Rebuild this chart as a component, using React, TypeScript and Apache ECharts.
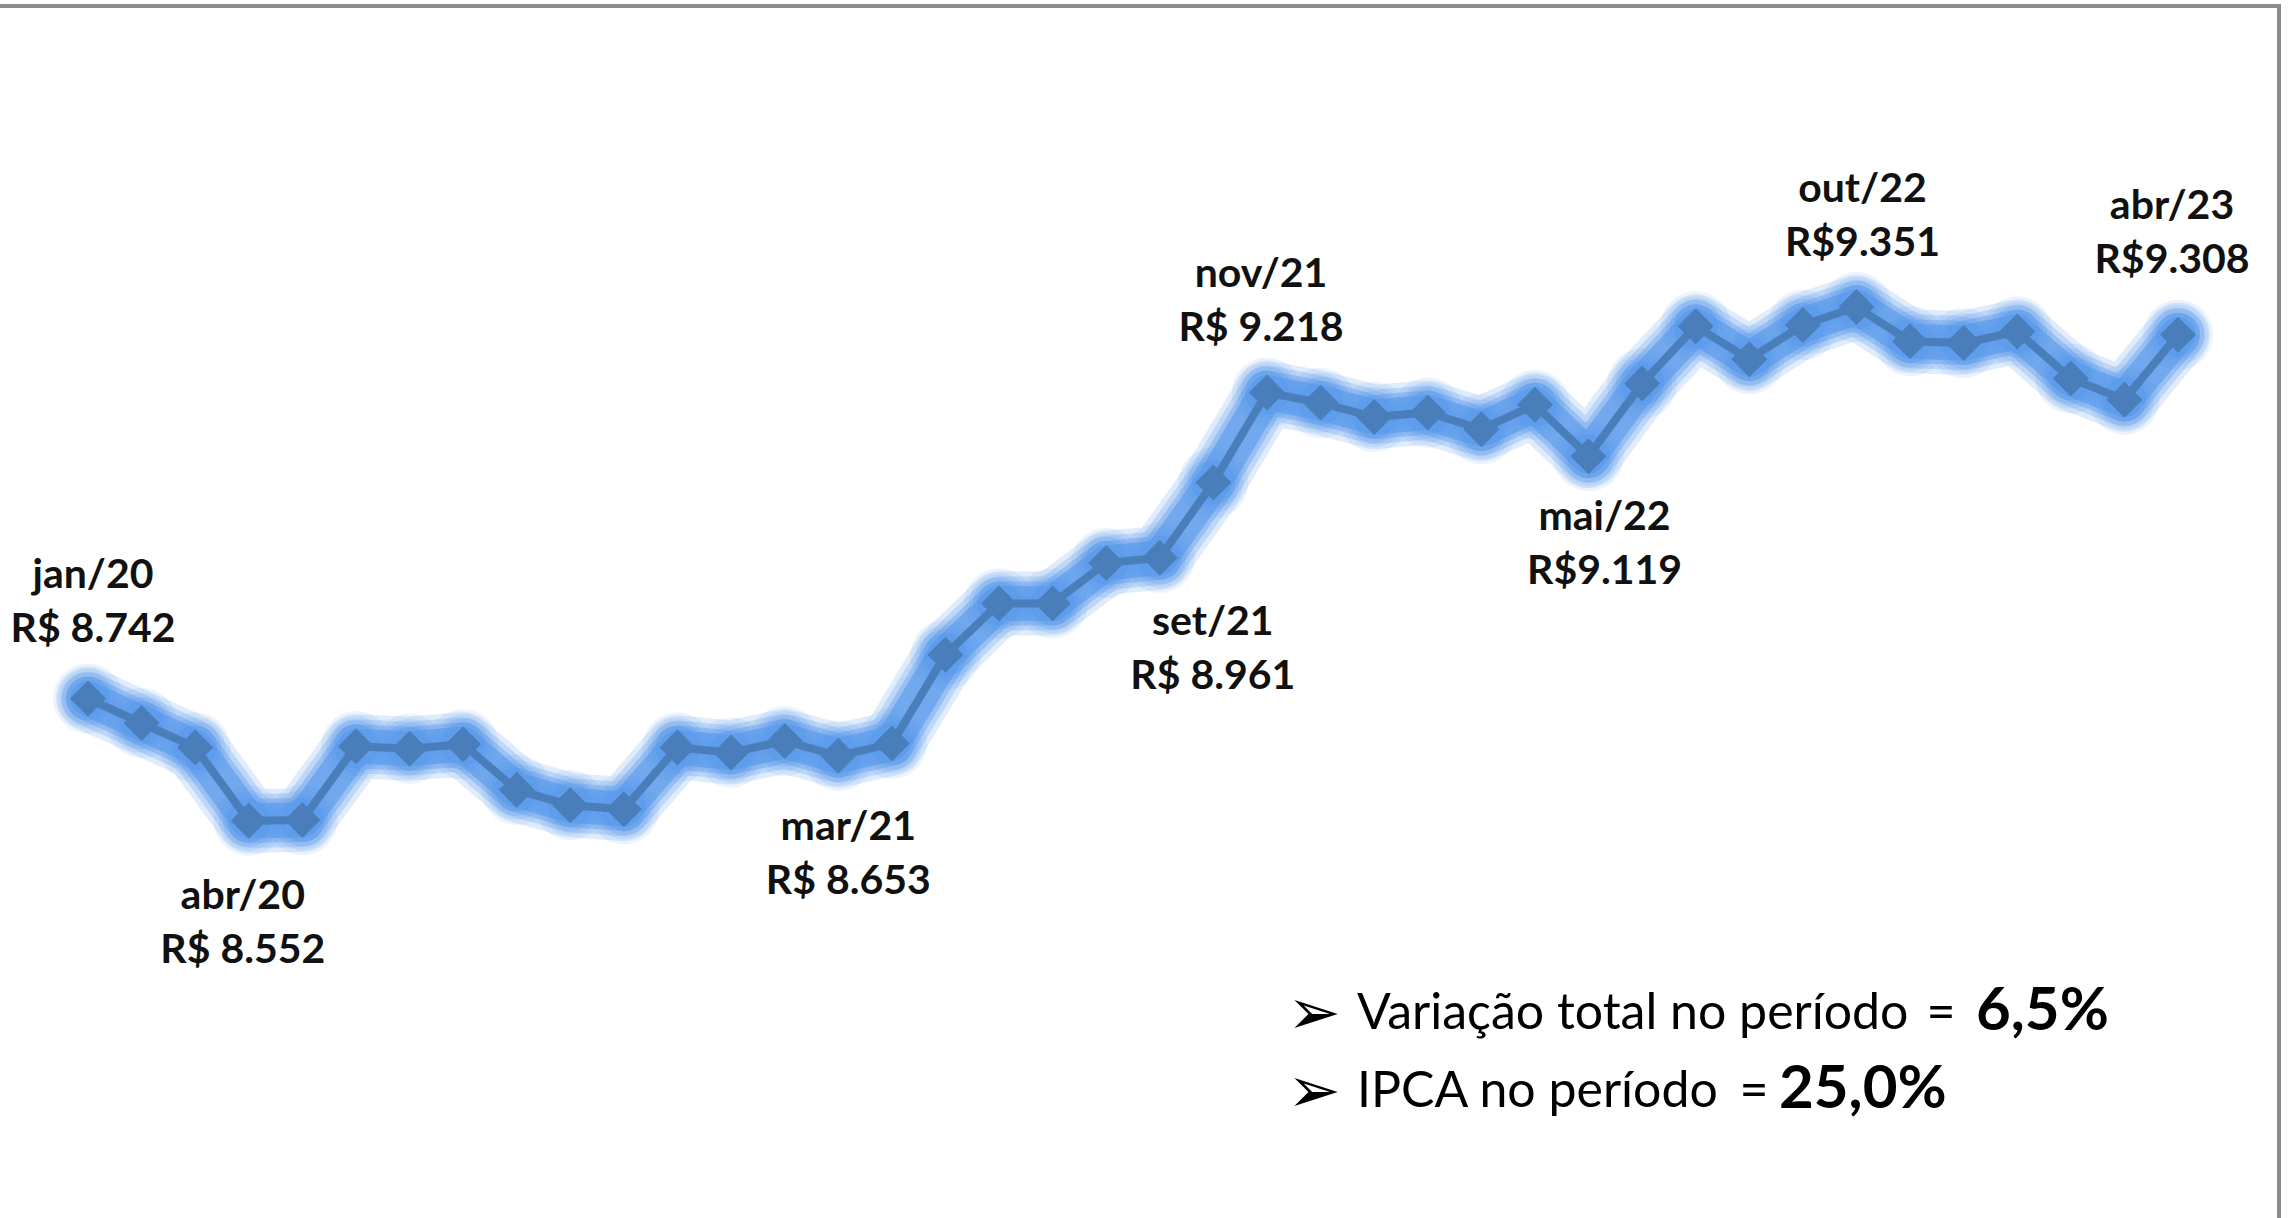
import React, { useEffect, useRef } from "react";
import * as echarts from "echarts";

const categories = [
  "jan/20", "fev/20", "mar/20", "abr/20", "mai/20", "jun/20", "jul/20", "ago/20", "set/20", "out/20", "nov/20", "dez/20",
  "jan/21", "fev/21", "mar/21", "abr/21", "mai/21", "jun/21", "jul/21", "ago/21", "set/21", "out/21", "nov/21", "dez/21",
  "jan/22", "fev/22", "mar/22", "abr/22", "mai/22", "jun/22", "jul/22", "ago/22", "set/22", "out/22", "nov/22", "dez/22",
  "jan/23", "fev/23", "mar/23", "abr/23",
];

const values = [
  8.742, 8.704, 8.666, 8.552, 8.553, 8.668, 8.664, 8.671, 8.6, 8.576, 8.57, 8.666,
  8.658, 8.676, 8.653, 8.672, 8.81, 8.89, 8.89, 8.953, 8.961, 9.078, 9.218, 9.202,
  9.18, 9.187, 9.161, 9.199, 9.119, 9.232, 9.321, 9.27, 9.323, 9.351, 9.298, 9.295,
  9.313, 9.24, 9.207, 9.308,
];

const labeledIndices = [0, 3, 14, 20, 22, 28, 33, 39];
const labelValueTexts = ["R$ 8.742", "R$ 8.552", "R$ 8.653", "R$ 8.961", "R$ 9.218", "R$9.119", "R$9.351", "R$9.308"];

const summaryTexts = ["Variação total no período", "IPCA no período"];
const summaryValues = ["6,5%", "25,0%"];

// label placement: [position, distance, dx]
const labelPlacement: Record<number, [string, number, number]> = {
  0: ["top", 27, 5],
  3: ["bottom", 28, -6],
  14: ["bottom", 24, 10],
  20: ["bottom", 17, 53],
  22: ["top", 22, -6],
  28: ["bottom", 13, 16],
  33: ["top", 22, 6],
  39: ["top", 32, -6],
};

// summary layout: [equals sign x, bold value x, line center y]
const summaryLayout: [number, number, number][] = [
  [1941, 1976, 1010],
  [1754, 1779, 1088],
];

const LINE = "#4a7ebb";
// glow layers: [line width, symbol size, alpha]
const glowLayers: [number, number, number][] = [
  [64, 70, 0.18],
  [54, 60, 0.24],
  [44, 52, 0.34],
  [35, 44, 0.55],
];

export default function App() {
  const ref = useRef<HTMLDivElement>(null);
  useEffect(() => {
    if (!ref.current) return;
    const chart = echarts.init(ref.current, undefined, { renderer: "svg" });
    const mainData = values.map((v, i) => {
      const k = labeledIndices.indexOf(i);
      if (k < 0) return v;
      const [pos, dist, dx] = labelPlacement[i];
      return {
        value: v,
        label: {
          show: true,
          position: pos,
          distance: dist,
          offset: [dx, 0],
          formatter: `${categories[i]}\n${labelValueTexts[k]}`,
        },
      };
    });
    const glowSeries = glowLayers.map(([w, s, a]) => ({
      type: "line",
      data: values,
      silent: true,
      z: 1,
      symbol: "circle",
      symbolSize: s,
      lineStyle: { width: w, color: `rgba(82,150,234,${a})`, cap: "round", join: "round" },
      itemStyle: { color: `rgba(82,150,234,${a * 0.6})` },
      label: { show: false },
    }));
    chart.setOption({
      animation: false,
      backgroundColor: "#ffffff",
      grid: { left: 88, right: 114, top: 147, bottom: 171 },
      xAxis: {
        type: "category",
        data: categories,
        boundaryGap: false,
        show: false,
      },
      yAxis: {
        type: "value",
        min: 8.2,
        max: 9.6,
        show: false,
        splitLine: { show: false },
      },
      series: [
        ...glowSeries,
        {
          type: "line",
          data: mainData,
          z: 2,
          symbol: "diamond",
          symbolSize: 36,
          lineStyle: { width: 8, color: LINE },
          itemStyle: { color: LINE },
          label: {
            show: false,
            fontFamily: "Lato",
            fontWeight: "bold",
            fontSize: 41,
            lineHeight: 54,
            color: "#111111",
            align: "center",
          },
        },
      ],
      graphic: [
        { type: "line", shape: { x1: 0, y1: 6, x2: 2281, y2: 6 }, style: { stroke: "#8c8c8c", lineWidth: 4 } },
        { type: "line", shape: { x1: 2279, y1: 4, x2: 2279, y2: 1218 }, style: { stroke: "#8c8c8c", lineWidth: 4 } },
        ...summaryTexts.flatMap((t, i) => {
          const [eqX, valX, y] = summaryLayout[i];
          return [
            {
              type: "text",
              x: 1314,
              y: y + 2,
              style: { text: "➢", fontFamily: "DejaVu Sans", fontSize: 64, fill: "#000", align: "center", verticalAlign: "middle" },
            },
            {
              type: "text",
              x: 1357,
              y,
              style: { text: t, fontFamily: "Lato", fontSize: 50, fill: "#000", verticalAlign: "middle" },
            },
            {
              type: "text",
              x: eqX,
              y,
              style: { text: "=", fontFamily: "Lato", fontSize: 50, fill: "#000", align: "center", verticalAlign: "middle" },
            },
            {
              type: "text",
              x: valX,
              y: y - 3,
              style: { text: summaryValues[i], fontFamily: "Lato", fontWeight: "bold", fontSize: 60, fill: "#000", verticalAlign: "middle" },
            },
          ];
        }),
      ],
    });
    return () => chart.dispose();
  }, []);
  return (
    <div
      ref={ref}
      style={{ position: "fixed", left: 0, top: 0, width: 2292, height: 1218, background: "#fff" }}
    />
  );
}
